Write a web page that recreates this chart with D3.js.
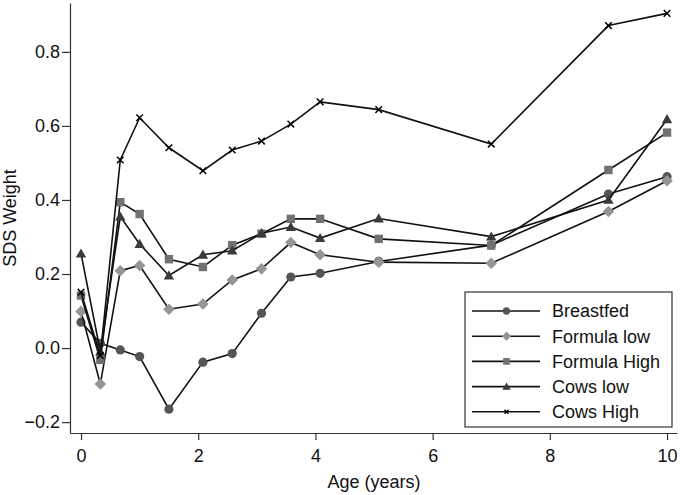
<!DOCTYPE html>
<html>
<head>
<meta charset="utf-8">
<script src="https://cdn.jsdelivr.net/npm/d3@7"></script>
<style>
  body { margin: 0; background: #fff; }
  text { font-family: "Liberation Sans", Arial, sans-serif; fill: #111; }
</style>
</head>
<body>
<div id="chart"></div>
<script>
  // ages in years
  var ages = [0, 0.33, 0.67, 1, 1.5, 2.08, 2.58, 3.08, 3.58, 4.08, 5.08, 7, 9, 10];

  var breastfed   = [0.070, 0.013, -0.005, -0.023, -0.165, -0.038, -0.015, 0.094, 0.192, 0.202, 0.234, 0.278, 0.416, 0.463];
  var formulaLow  = [0.099, -0.097, 0.209, 0.223, 0.105, 0.119, 0.184, 0.214, 0.285, 0.252, 0.232, 0.229, 0.369, 0.452];
  var formulaHigh = [0.142, -0.032, 0.394, 0.362, 0.240, 0.219, 0.278, 0.309, 0.349, 0.349, 0.295, 0.277, 0.481, 0.582];
  var cowsLow     = [0.255, -0.010, 0.355, 0.281, 0.196, 0.252, 0.263, 0.310, 0.327, 0.297, 0.350, 0.301, 0.400, 0.618];
  var cowsHigh    = [0.151, -0.020, 0.508, 0.622, 0.541, 0.479, 0.535, 0.559, 0.605, 0.665, 0.644, 0.551, 0.871, 0.904];

  var seriesNames = ["Breastfed", "Formula low", "Formula High", "Cows low", "Cows High"];
  var xTicks = [0, 2, 4, 6, 8, 10];
  var yTicks = [-0.2, 0.0, 0.2, 0.4, 0.6, 0.8];

  var width = 680, height = 495;
  var margin = { top: 3, right: 3, bottom: 62, left: 70 };

  var series = [
    { name: seriesNames[0], values: breastfed,   shape: "circle",   fill: "#555555" },
    { name: seriesNames[1], values: formulaLow,  shape: "diamond",  fill: "#959595" },
    { name: seriesNames[2], values: formulaHigh, shape: "square",   fill: "#717171" },
    { name: seriesNames[3], values: cowsLow,     shape: "triangle", fill: "#3a3a3a" },
    { name: seriesNames[4], values: cowsHigh,    shape: "x",        fill: "#000000" }
  ];

  var svg = d3.select("#chart").append("svg")
      .attr("width", width)
      .attr("height", height);

  var x = d3.scaleLinear()
      .domain([-0.188, 10.17])
      .range([margin.left, width - margin.right]);

  var y = d3.scaleLinear()
      .domain([-0.2294, 0.932])
      .range([height - margin.bottom, margin.top]);

  // axes
  var xAxis = svg.append("g")
      .attr("transform", "translate(0," + (height - margin.bottom) + ")")
      .call(d3.axisBottom(x).tickValues(xTicks).tickSize(7).tickSizeOuter(0).tickPadding(9).tickFormat(d3.format("d")));

  var yAxis = svg.append("g")
      .attr("transform", "translate(" + margin.left + ",0)")
      .call(d3.axisLeft(y).tickValues(yTicks).tickSize(8).tickSizeOuter(0).tickPadding(2).tickFormat(d3.format(".1f")));

  [xAxis, yAxis].forEach(function(a) {
    a.selectAll("path, line").attr("stroke", "#333").attr("stroke-width", 1.2);
    a.selectAll("text").style("font-size", "18px").attr("fill", "#111");
  });

  svg.append("text")
      .attr("x", x(5))
      .attr("y", 488)
      .attr("text-anchor", "middle")
      .style("font-size", "18px")
      .text("Age (years)");

  svg.append("text")
      .attr("transform", "translate(16," + ((margin.top + height - margin.bottom) / 2) + ") rotate(-90)")
      .attr("text-anchor", "middle")
      .style("font-size", "18px")
      .text("SDS Weight");

  function drawMarker(g, shape, fill, cx, cy, s) {
    if (shape === "circle") {
      g.append("circle").attr("cx", cx).attr("cy", cy).attr("r", 4.6 * s).attr("fill", fill);
    } else if (shape === "diamond") {
      var r = 5.8 * s;
      g.append("path").attr("d", "M" + cx + "," + (cy - r) + "L" + (cx + r) + "," + cy + "L" + cx + "," + (cy + r) + "L" + (cx - r) + "," + cy + "Z").attr("fill", fill);
    } else if (shape === "square") {
      var h = 4.2 * s;
      g.append("rect").attr("x", cx - h).attr("y", cy - h).attr("width", 2 * h).attr("height", 2 * h).attr("fill", fill);
    } else if (shape === "triangle") {
      var t = 5.2 * s;
      g.append("path").attr("d", "M" + cx + "," + (cy - t) + "L" + (cx + t) + "," + (cy + t * 0.75) + "L" + (cx - t) + "," + (cy + t * 0.75) + "Z").attr("fill", fill);
    } else {
      var k = 3.3 * s;
      g.append("path").attr("d", "M" + (cx - k) + "," + (cy - k) + "L" + (cx + k) + "," + (cy + k) + "M" + (cx - k) + "," + (cy + k) + "L" + (cx + k) + "," + (cy - k))
        .attr("stroke", fill).attr("stroke-width", 1.5).attr("fill", "none");
    }
  }

  var line = d3.line()
      .x(function(d, i) { return x(ages[i]); })
      .y(function(d) { return y(d); });

  series.forEach(function(s) {
    var g = svg.append("g").attr("class", "series");
    g.append("path")
        .attr("d", line(s.values))
        .attr("fill", "none")
        .attr("stroke", "#111")
        .attr("stroke-width", 1.6);
    s.values.forEach(function(v, i) {
      drawMarker(g, s.shape, s.fill, x(ages[i]), y(v), 1);
    });
  });

  // legend
  var lg = svg.append("g").attr("transform", "translate(465,292)");
  lg.append("rect")
      .attr("width", 207).attr("height", 135)
      .attr("fill", "#fff").attr("stroke", "#333").attr("stroke-width", 1.2);

  series.forEach(function(s, i) {
    var ly = 19 + i * 25.2;
    lg.append("line").attr("x1", 7).attr("x2", 75).attr("y1", ly).attr("y2", ly)
        .attr("stroke", "#111").attr("stroke-width", 1.6);
    drawMarker(lg, s.shape, s.fill, 41.5, ly, s.shape === "x" ? 0.6 : 0.8);
    lg.append("text").attr("x", 87).attr("y", ly).attr("dy", "0.36em")
        .style("font-size", "18px").text(s.name);
  });
</script>
</body>
</html>
